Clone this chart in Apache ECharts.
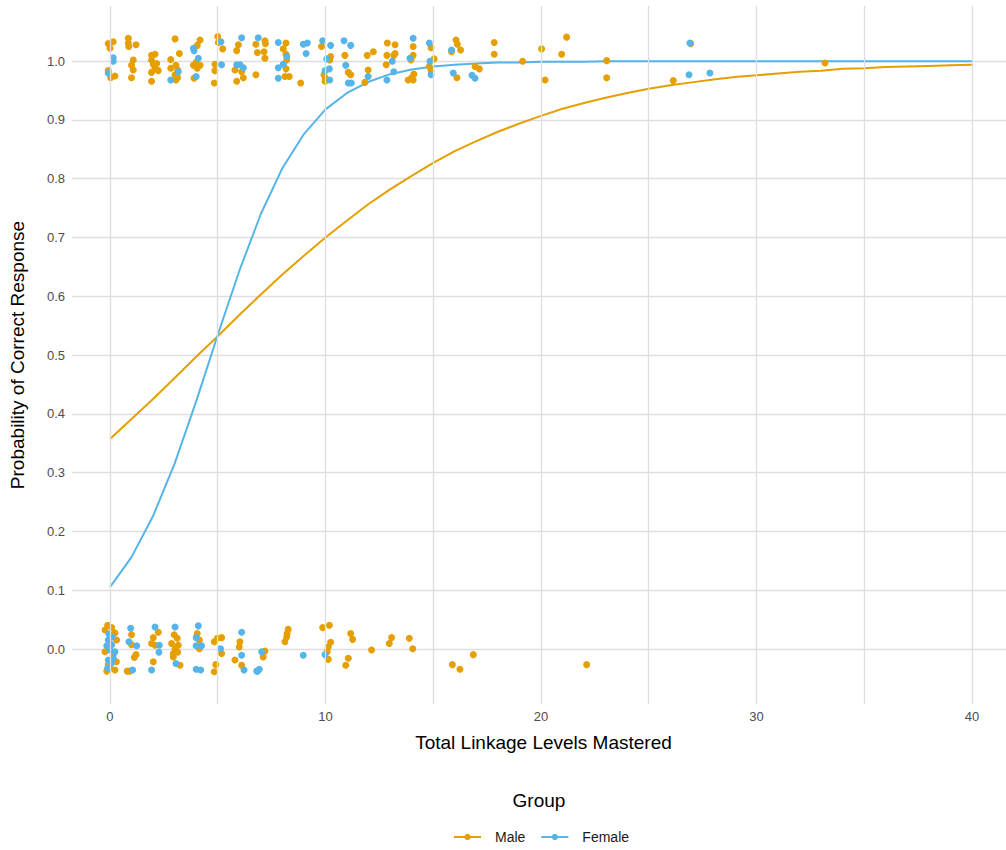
<!DOCTYPE html>
<html>
<head>
<meta charset="utf-8">
<script src="https://cdn.jsdelivr.net/npm/echarts@6/dist/echarts.min.js"></script>
<style>html,body{margin:0;padding:0;background:#fff}#chart{width:1006px;height:850px}</style>
</head>
<body>
<div id="chart"></div>
<script>
// ---- data ----
const curveX = [0,1,2,3,4,5,6,7,8,9,10,11,12,13,14,15,16,17,18,19,20,21,22,23,24,25,26,27,28,29,30,31,32,33,34,35,36,37,38,39,40];
const maleCurve = [0.357,0.391,0.425,0.461,0.497,0.532,0.568,0.603,0.637,0.669,0.700,0.729,0.757,0.782,0.805,0.827,0.847,0.864,0.880,0.894,0.907,0.919,0.929,0.938,0.946,0.953,0.959,0.964,0.969,0.973,0.976,0.979,0.982,0.984,0.987,0.988,0.990,0.991,0.992,0.993,0.994];
const femaleCurve = [0.105,0.156,0.226,0.315,0.421,0.534,0.643,0.740,0.818,0.876,0.918,0.946,0.965,0.978,0.986,0.991,0.994,0.996,0.998,0.998,0.999,0.999,0.999,1.0,1.0,1.0,1.0,1.0,1.0,1.0,1.0,1.0,1.0,1.0,1.0,1.0,1.0,1.0,1.0,1.0,1.0];

const malePoints = [
  [-0.08,1.030],[0.15,1.033],[0,1.022],[-0.08,0.984],[0.03,0.972],[0.23,0.975],
  [0.85,1.039],[0.85,1.031],[0.87,1.025],[1.21,1.028],[1.08,1.002],[1.0,0.993],[1.08,0.985],[1.0,0.972],
  [1.93,1.010],[2.09,1.012],[1.93,1.002],[2.01,0.995],[2.17,0.996],[2.09,0.988],[2.24,0.984],[1.93,0.981],[1.93,0.966],
  [3.02,1.038],[3.22,1.013],[2.82,1.003],[3.06,0.993],[2.82,0.988],[3.14,0.985],[3.02,0.977],[3.14,0.972],[3.06,0.968],
  [4.18,1.036],[4.05,1.027],[4.0,0.998],[3.87,0.993],[4.18,0.993],[4.05,0.988],[3.9,0.971],
  [5.0,1.042],[5.03,1.032],[5.23,1.021],[4.87,0.995],[4.87,0.984],[4.84,0.963],
  [5.96,1.028],[5.88,1.018],[5.8,0.985],[6.11,0.982],[6.19,0.972],[5.88,0.966],
  [6.77,1.029],[7.19,1.035],[7.21,1.030],[6.84,1.015],[7.15,1.016],[7.19,1.005],[6.77,0.977],
  [8.17,1.031],[8.04,1.021],[8.17,1.012],[8.2,1.002],[8.17,0.987],[8.12,0.974],[8.32,0.974],[8.85,0.963],
  [9.82,1.025],[10.24,1.008],[10.2,1.002],[9.93,0.977],[10.0,0.971],[9.98,0.966],
  [10.9,1.010],[11.06,0.981],[11.17,0.977],
  [11.94,1.010],[12.22,1.016],[11.98,0.985],[11.83,0.964],
  [12.87,1.031],[13.23,1.028],[13.23,1.013],[13.17,1.010],[12.85,1.010],[12.82,0.994],
  [14.07,1.025],[14.07,1.010],[13.84,0.968],[14.07,0.968],[14.0,0.972],[14.1,0.978],[13.97,1.002],
  [14.9,1.023],[15.04,1.004],[14.82,0.991],[14.9,0.984],
  [16.06,1.036],[16.12,1.029],[16.27,1.019],[15.85,1.016],[16.1,0.972],
  [16.94,0.991],[17.14,0.987],[17.83,1.032],[17.83,1.012],[19.15,1.0],
  [20.03,1.021],[20.19,0.968],[21.19,1.041],[20.96,1.012],
  [23.05,1.001],[23.05,0.972],[26.14,0.967],[26.95,1.030],[33.18,0.997],
  // bottom band
  [-0.11,0.040],[0.08,0.036],[-0.23,0.032],[0.23,0.027],[0.0,0.024],[0.31,0.015],[-0.23,-0.005],[0.15,-0.010],[-0.08,-0.027],[0.0,-0.033],[0.23,-0.036],[-0.15,-0.038],[0.3,-0.022],
  [1.0,0.024],[1.0,0.007],[1.21,-0.010],[1.13,-0.015],[0.8,-0.038],[0.92,-0.038],
  [2.24,0.028],[2.01,0.019],[1.93,0.009],[2.09,0.006],[2.01,-0.022],
  [2.98,0.024],[3.12,0.018],[2.86,0.009],[3.17,0.006],[3.02,0.0],[2.94,-0.008],[3.14,-0.006],[2.94,-0.014],[3.25,-0.028],
  [4.05,0.026],[4.15,0.015],[4.15,0.0],
  [4.98,0.018],[5.18,0.019],[4.84,0.012],[5.18,-0.008],[4.91,-0.027],[4.84,-0.039],
  [6.03,0.012],[6.0,0.003],[5.8,-0.019],[6.11,-0.028],
  [7.19,-0.004],[7.11,-0.014],
  [8.27,0.033],[8.22,0.026],[8.2,0.020],[8.12,0.012],
  [9.87,0.036],[10.18,0.040],[10.24,0.011],[10.13,0.003],[10.08,-0.005],[10.13,-0.018],
  [11.17,0.026],[11.26,0.016],[11.06,-0.016],[10.94,-0.028],
  [12.14,-0.002],[13.07,0.019],[12.96,0.009],[13.89,0.018],[14.05,0.0],
  [15.89,-0.027],[16.24,-0.035],[16.86,-0.010],[22.12,-0.027]
];

const femalePoints = [
  [0.15,1.006],[0.15,1.0],[-0.08,0.98],
  [3.17,0.982],[2.82,0.968],
  [3.87,1.022],[3.9,1.018],[4.1,1.005],[4.0,0.974],
  [5.15,1.033],[5.18,0.994],
  [6.11,1.040],[5.88,0.994],[6.04,0.994],[6.19,0.989],
  [6.88,1.040],
  [7.81,1.032],[8.2,1.008],[8.04,0.995],[7.81,0.989],[7.81,0.971],
  [8.97,1.029],[9.16,1.031],[9.1,1.013],
  [9.87,1.035],[10.24,1.027],[10.06,1.004],[9.98,0.984],[10.18,0.987],[10.2,0.968],
  [10.86,1.035],[11.17,1.027],[10.94,0.993],[11.06,0.963],[11.2,0.963],
  [11.98,0.974],[13.1,1.0],[13.17,0.982],[12.85,0.968],
  [14.07,1.039],[13.92,1.005],
  [14.82,1.031],[14.85,1.0],[14.9,0.977],
  [15.85,1.019],[15.93,0.98],[16.8,0.976],[16.94,0.971],
  [26.91,1.031],[26.87,0.977],[27.84,0.980],
  // bottom band
  [-0.08,0.015],[0.08,0.007],[-0.15,0.005],[0.0,-0.002],[0.23,-0.005],[0.15,-0.016],[-0.08,-0.019],[0.08,-0.024],[-0.11,-0.033],[0.1,0.02],[-0.05,0.025],
  [0.96,0.035],[0.88,0.012],[1.24,0.005],[1.05,-0.036],
  [2.09,0.037],[2.29,0.006],[2.27,-0.006],[1.93,-0.036],
  [3.02,0.037],[3.06,-0.025],
  [4.1,0.039],[4.0,0.019],[4.0,0.005],[4.25,0.005],[4.0,-0.035],[4.21,-0.036],
  [5.13,0.0],[6.11,0.028],[6.11,-0.011],[6.22,-0.036],
  [6.81,-0.038],[6.93,-0.035],[6.85,-0.038],[7.04,-0.005],
  [8.97,-0.011],[9.98,-0.010]
];

const xTickValues = [0,10,20,30,40];
const xGridValues = [0,5,10,15,20,25,30,35,40];
const yTickLabels = ['0.0','0.1','0.2','0.3','0.4','0.5','0.6','0.7','0.8','0.9','1.0'];
const groups = ['Male','Female'];
const colors = {Male:'#E69F00', Female:'#56B4E9'};

// ---- chart ----
const FONT = "'Liberation Sans', Arial, sans-serif";
const GRID_COL = '#dedede';
const chart = echarts.init(document.getElementById('chart'), null, {renderer:'svg'});

const toPairs = (xs, ys) => xs.map((x,i)=>[x, ys[i]]);

// horizontal grid: ticks -0.1..1.1 step 0.1 (first/last hidden)
const hColors = ['transparent'];
for (let i=0;i<11;i++) hColors.push(GRID_COL);
hColors.push('transparent');

const option = {
  animation:false,
  backgroundColor:'#fff',
  textStyle:{fontFamily:FONT},
  grid:[
    {left:63, width:943, top:6, height:698, containLabel:false},
    {left:63, width:943, top:2.2, height:705.6, containLabel:false}
  ],
  xAxis:[
    {gridIndex:0, type:'value', min:-2.18, max:41.58,
     axisLine:{show:false},
     axisTick:{show:false, customValues:xGridValues},
     splitLine:{show:false},
     axisLabel:{margin:6, fontSize:13, color:'#4d4d4d', fontFamily:FONT, customValues:xTickValues,
       formatter:v=> String(v)}},
    {gridIndex:1, type:'value', min:0, max:1,
     axisLine:{show:false}, axisTick:{show:false}, axisLabel:{show:false}, splitLine:{show:false},
     name:'Total Linkage Levels Mastered', nameLocation:'middle', nameGap:25,
     nameTextStyle:{fontSize:19, color:'#000', fontFamily:FONT, padding:[0,0,0,9]}}
  ],
  yAxis:[
    {gridIndex:0, type:'value', min:-0.094, max:1.094,
     axisLine:{show:false}, axisTick:{show:false}, axisLabel:{show:false}, splitLine:{show:false}},
    {gridIndex:1, type:'value', min:-0.1, max:1.1, interval:0.1,
     axisLine:{show:false}, axisTick:{show:false},
     splitLine:{show:true, lineStyle:{color:hColors, width:1.3}},
     axisLabel:{margin:7, fontSize:13, color:'#4d4d4d', fontFamily:FONT,
       formatter:v=>{ const i=Math.round(v*10); return (i>=0 && i<yTickLabels.length) ? yTickLabels[i] : ''; }},
     name:'Probability of Correct Response', nameLocation:'middle', nameGap:45,
     nameTextStyle:{fontSize:19, color:'#000', fontFamily:FONT}}
  ],
  legend:{
    data:groups, left:448, top:825, orient:'horizontal',
    itemWidth:27, itemHeight:8, itemGap:15,
    textStyle:{fontSize:14, color:'#1a1a1a', fontFamily:FONT, padding:[0,0,0,9]},
    selectedMode:false
  },
  graphic:[
    {type:'text', x:539, y:800, style:{text:'Group', textAlign:'center', textVerticalAlign:'middle', fontSize:19, fill:'#000', fontFamily:FONT}}
  ],
  series:[
    {name:'grid', type:'line', xAxisIndex:0, yAxisIndex:0, data:[], silent:true, z:1,
     markLine:{silent:true, symbol:['none','none'], label:{show:false}, animation:false,
       lineStyle:{color:GRID_COL, width:1.3, type:'solid'},
       emphasis:{disabled:true},
       data:xGridValues.map(v=>({xAxis:v}))}},
    {name:'Male', type:'line', xAxisIndex:0, yAxisIndex:0, data:toPairs(curveX, maleCurve),
     symbol:'none', lineStyle:{color:colors.Male, width:2}, itemStyle:{color:colors.Male}, z:2, silent:true},
    {name:'Female', type:'line', xAxisIndex:0, yAxisIndex:0, data:toPairs(curveX, femaleCurve),
     symbol:'none', lineStyle:{color:colors.Female, width:2}, itemStyle:{color:colors.Female}, z:2, silent:true},
    {name:'Male', type:'scatter', xAxisIndex:0, yAxisIndex:0, data:malePoints,
     symbol:'circle', symbolSize:7, itemStyle:{color:colors.Male, opacity:1}, z:3, silent:true},
    {name:'Female', type:'scatter', xAxisIndex:0, yAxisIndex:0, data:femalePoints,
     symbol:'circle', symbolSize:7, itemStyle:{color:colors.Female, opacity:1}, z:4, silent:true}
  ]
};
chart.setOption(option);
</script>
</body>
</html>
